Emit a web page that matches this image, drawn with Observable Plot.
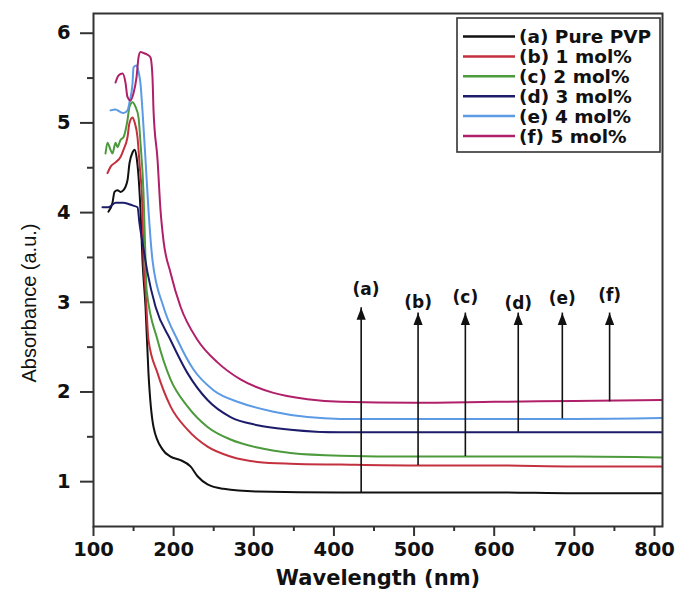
<!DOCTYPE html>
<html>
<head>
<meta charset="utf-8">
<script src="https://cdn.jsdelivr.net/npm/d3@7"></script>
<script src="https://cdn.jsdelivr.net/npm/@observablehq/plot@0.6"></script>
<style>
  body { margin: 0; background: #fff; }
  #chart { width: 680px; height: 596px; }
</style>
</head>
<body>
<div id="chart"></div>
<script>
// UV absorbance spectra of PVP films with increasing dopant content
const seriesNames = ["(a) Pure PVP", "(b) 1 mol%", "(c) 2 mol%", "(d) 3 mol%", "(e) 4 mol%", "(f) 5 mol%"];
const seriesColors = ["#111111", "#c4303e", "#4c9a3c", "#1c1c6a", "#5c9ae6", "#b0206a"];

const wlA = [118.7,123.7,126.2,129.9,133.7,137.4,142.4,144.9,148.7,151.2,153.7,156.2,158.6,161.1,164.9,168.6,174.9,186.1,196.1,208.6,221,229.8,242.3,262.2,304.6,408.2,500,600,700,810];
const absA = [4.01,4.11,4.23,4.25,4.23,4.25,4.36,4.55,4.67,4.70,4.62,4.40,4.03,3.47,2.95,2.21,1.61,1.36,1.28,1.24,1.17,1.06,0.97,0.92,0.89,0.88,0.88,0.88,0.87,0.87];

const wlB = [117.5,121.2,127.5,133.7,137.4,142.4,144.9,148.7,151.2,154.9,157.4,161.1,162.4,164.9,168.6,179.9,196.1,217.3,242.3,271,304.6,345.8,408.2,500,600,700,810];
const absB = [4.44,4.51,4.56,4.62,4.70,4.84,5.00,5.06,5.01,4.84,4.55,4.03,3.47,3.14,2.58,2.21,1.84,1.58,1.39,1.28,1.22,1.20,1.19,1.18,1.18,1.17,1.17];

const wlC = [115,117.5,121.2,123.7,127.5,129.9,133.7,137.4,142.4,144.9,148.7,152.4,156.2,158.6,162.4,164.9,166.2,179.9,196.1,217.3,242.3,271,304.6,345.8,408.2,500,600,700,810];
const absC = [4.66,4.78,4.70,4.66,4.78,4.73,4.81,4.84,5.03,5.18,5.23,5.18,5.06,4.78,4.22,3.47,3.14,2.58,2.14,1.84,1.61,1.47,1.38,1.32,1.29,1.28,1.28,1.28,1.27];

const wlD = [111.2,118.7,127.5,137.4,148.7,154.9,157.4,162.4,167.4,177.4,196.1,217.3,242.3,271,304.6,345.8,408.2,500,600,700,810];
const absD = [4.06,4.06,4.11,4.11,4.08,4.06,3.88,3.60,3.33,2.95,2.58,2.21,1.91,1.72,1.63,1.58,1.55,1.55,1.55,1.55,1.55];

const wlE = [121.2,127.5,133.7,137.4,142.4,144.9,148.7,149.9,153.7,156.2,158.6,161.1,164.9,168.6,173.6,187.3,204.8,224.8,249.7,283.4,324.6,367,408.2,500,600,700,810];
const absE = [5.14,5.15,5.12,5.11,5.14,5.23,5.44,5.62,5.64,5.57,5.44,5.14,4.59,4.03,3.47,2.95,2.58,2.25,2.02,1.88,1.78,1.72,1.70,1.70,1.70,1.70,1.71];

const wlF = [127.5,131.2,136.2,139.9,142.4,146.2,149.9,153.7,156.2,158.6,162.4,167.4,171.1,173.6,174.9,179.9,183.6,187.3,196.1,208.6,229.8,254.7,283.4,324.6,367,408.2,500,600,700,810];
const absF = [5.45,5.53,5.55,5.45,5.29,5.25,5.33,5.51,5.73,5.79,5.78,5.76,5.73,5.51,5.14,4.59,4.03,3.69,3.33,2.95,2.58,2.33,2.14,1.99,1.92,1.89,1.88,1.89,1.90,1.91];

// Arrows marking each spectrum's baseline
const arrowLabels = ["(a)", "(b)", "(c)", "(d)", "(e)", "(f)"];
const arrowWl = [434, 505, 564, 630, 685, 744];
const arrowBase = [0.88, 1.18, 1.28, 1.55, 1.70, 1.89];
const arrowTip = [2.94, 2.88, 2.88, 2.88, 2.88, 2.88];
const labelWl = [440, 505, 564, 630, 685, 744];
const labelAbs = [3.14, 3.00, 3.05, 2.99, 3.04, 3.07];

const xMajor = [100, 200, 300, 400, 500, 600, 700, 800];
const xMinor = [150, 250, 350, 450, 550, 650, 750];
const yMajor = [1, 2, 3, 4, 5, 6];
const yMinor = [1.5, 2.5, 3.5, 4.5, 5.5];

const wlSets = [wlA, wlB, wlC, wlD, wlE, wlF];
const absSets = [absA, absB, absC, absD, absE, absF];
const spectra = wlSets.flatMap((wl, s) => wl.map((w, i) => ({series: seriesNames[s], wl: w, abs: absSets[s][i]})));
const arrows = arrowLabels.map((label, i) => ({label, wl: arrowWl[i], base: arrowBase[i], tip: arrowTip[i], lwl: labelWl[i], labs: labelAbs[i]}));

// Filled, slightly elongated arrowhead with its tip above the anchor point
const arrowHead = {
  draw(ctx, size) {
    const s = Math.sqrt(size);
    ctx.moveTo(0, -0.7 * s);
    ctx.lineTo(0.38 * s, 0.3 * s);
    ctx.lineTo(-0.38 * s, 0.3 * s);
    ctx.closePath();
  }
};

const bold = "DejaVu Sans, sans-serif";

const svg = Plot.plot({
  width: 680,
  height: 596,
  marginLeft: 93,
  marginRight: 18,
  marginTop: 13,
  marginBottom: 70,
  style: {fontFamily: bold, color: "#111", background: "#fff"},
  x: {domain: [100, 810], label: null},
  y: {domain: [0.5, 6.22], label: null},
  color: {domain: seriesNames, range: seriesColors},
  marks: [
    // tick marks (labels drawn separately below)
    Plot.axisX(xMajor, {tickSize: 10, text: null, strokeWidth: 2, stroke: "#333", label: null}),
    Plot.axisX(xMinor, {tickSize: 5, text: null, strokeWidth: 2, stroke: "#333", label: null}),
    Plot.axisY(yMajor, {tickSize: 13, text: null, strokeWidth: 2, stroke: "#333", label: null}),
    Plot.axisY(yMinor, {tickSize: 6, text: null, strokeWidth: 2, stroke: "#333", label: null}),
    Plot.text(xMajor, {x: d => d, text: d => String(d), frameAnchor: "bottom", lineAnchor: "top", dy: 16, fontSize: 19.5, fontWeight: "bold", fill: "#111"}),
    Plot.text(yMajor, {y: d => d, text: d => String(d), frameAnchor: "left", textAnchor: "end", dx: -23, fontSize: 19.5, fontWeight: "bold", fill: "#111"}),
    Plot.line(spectra, {x: "wl", y: "abs", z: "series", stroke: "series", strokeWidth: 2, curve: "monotone-x", clip: true}),
    Plot.ruleX(arrows, {x: "wl", y1: "base", y2: "tip", stroke: "#111", strokeWidth: 1.6}),
    Plot.dot(arrows, {x: "wl", y: "tip", symbol: arrowHead, r: 6.8, fill: "#111", stroke: "none", dy: 8.4}),
    Plot.text(arrows, {x: "lwl", y: "labs", text: "label", fontSize: 17, fontWeight: "bold", fill: "#111"}),
    Plot.frame({stroke: "#333", strokeWidth: 2}),
    Plot.text(["Wavelength (nm)"], {frameAnchor: "bottom", dy: 52, lineAnchor: "middle", fontSize: 21, fontWeight: "bold", fill: "#111"}),
    Plot.text(["Absorbance (a.u.)"], {frameAnchor: "left", dx: -64, dy: 33, rotate: -90, textAnchor: "middle", lineAnchor: "middle", fontSize: 20, fontFamily: "Liberation Sans, Arial, sans-serif", fill: "#111"})
  ]
});

// Boxed legend in the upper-right corner of the frame
const legend = d3.select(svg).append("g")
  .attr("font-family", bold).attr("font-weight", "bold").attr("font-size", 18.5)
  .attr("text-anchor", "start");
legend.append("rect")
  .attr("x", 457).attr("y", 18).attr("width", 203).attr("height", 134)
  .attr("fill", "#fff").attr("stroke", "#333").attr("stroke-width", 1.6);
seriesNames.forEach((name, i) => {
  const y = 36.5 + i * 19.9;
  legend.append("line")
    .attr("x1", 463).attr("x2", 515).attr("y1", y).attr("y2", y)
    .attr("stroke", seriesColors[i]).attr("stroke-width", 2.5);
  legend.append("text")
    .attr("x", 519).attr("y", y).attr("dy", "0.36em")
    .attr("text-anchor", "start")
    .attr("fill", "#111").text(name);
});

document.getElementById("chart").appendChild(svg);
</script>
</body>
</html>
